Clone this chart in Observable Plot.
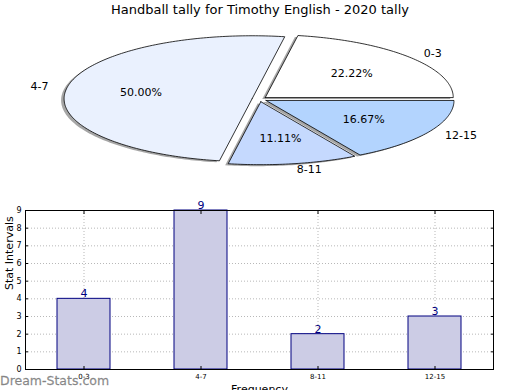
<!DOCTYPE html>
<html>
<head>
<meta charset="utf-8">
<script src="https://cdn.jsdelivr.net/npm/d3@7"></script>
<script src="https://cdn.jsdelivr.net/npm/@observablehq/plot@0.6"></script>
<style>
  body { margin: 0; background: #fff; font-family: "DejaVu Sans", sans-serif; }
  #wrap { position: relative; width: 520px; height: 390px; overflow: hidden; }
  #title { height: 20px; line-height: 20px; text-align: center; font-size: 13px; color: #000; }
  #wm { position: absolute; left: 0; top: 374px; line-height: 14px; font-size: 12.5px; font-weight: normal; color: rgba(110,110,110,0.75); -webkit-text-stroke: 0.3px rgba(110,110,110,0.75); pointer-events: none; }
  svg { display: block; }
</style>
</head>
<body>
<div id="wrap">
  <div id="title">Handball tally for Timothy English - 2020 tally</div>
  <div id="pie"></div>
  <div id="bar"></div>
  <div id="wm">Dream-Stats.com</div>
</div>
<script>
// ---- data ----
const categories = ["0-3", "4-7", "8-11", "12-15"];
const counts = [4, 9, 2, 3];
const sliceColors = ["#ffffff", "#eaf1fe", "#c5d9fe", "#b3d4fe"];
const yTicks = [0, 1, 2, 3, 4, 5, 6, 7, 8, 9];
const explode = 0.04;

// ---- pie geometry (unit circle, matplotlib-style start at 0°, counterclockwise) ----
const total = d3.sum(counts);
let acc = 0;
const slices = categories.map((c, i) => {
  const a0 = acc / total * 2 * Math.PI;
  acc += counts[i];
  const a1 = acc / total * 2 * Math.PI;
  const mid = (a0 + a1) / 2;
  const ox = explode * Math.cos(mid), oy = explode * Math.sin(mid);
  const pts = [{x: ox, y: oy}];
  const n = Math.max(2, Math.ceil((a1 - a0) / (Math.PI / 180)));
  for (let k = 0; k <= n; k++) {
    const a = a0 + (a1 - a0) * k / n;
    pts.push({x: ox + Math.cos(a), y: oy + Math.sin(a)});
  }
  pts.push({x: ox, y: oy});
  return {label: c, value: counts[i], color: sliceColors[i], mid, ox, oy, pts,
          pct: (100 * counts[i] / total).toFixed(2) + "%"};
});

const labelPts = slices.map(s => ({
  text: s.label,
  x: s.ox + 1.1 * Math.cos(s.mid),
  y: s.oy + 1.1 * Math.sin(s.mid)
}));
const pctPts = slices.map(s => ({
  text: s.pct,
  x: s.ox + 0.6 * Math.cos(s.mid),
  y: s.oy + 0.6 * Math.sin(s.mid)
}));

const pieMarks = [];
slices.forEach(s => pieMarks.push(Plot.line(s.pts, {x: "x", y: "y", fill: "#4d4d4d", fillOpacity: 0.5, stroke: "none", dx: -3, dy: 1.5})));
slices.forEach(s => pieMarks.push(Plot.line(s.pts, {x: "x", y: "y", fill: s.color, stroke: "#000", strokeWidth: 0.8})));
pieMarks.push(Plot.text(labelPts.filter(d => d.x > 0), {x: "x", y: "y", text: "text", textAnchor: "start", fontSize: 11, fill: "#000"}));
pieMarks.push(Plot.text(labelPts.filter(d => d.x <= 0), {x: "x", y: "y", text: "text", textAnchor: "end", fontSize: 11, fill: "#000"}));
pieMarks.push(Plot.text(pctPts, {x: "x", y: "y", text: "text", fontSize: 11, fill: "#000"}));

const pie = Plot.plot({
  width: 520, height: 170,
  margin: 0,
  style: {fontFamily: "DejaVu Sans", background: "transparent"},
  x: {domain: [-1, 1], range: [71, 447], axis: null},
  y: {domain: [-1, 1], range: [141.7, 15.7], axis: null},
  marks: pieMarks
});
document.getElementById("pie").append(pie);

// ---- bar chart ----
const barData = categories.map((c, i) => ({cat: c, n: counts[i]}));
const bar = Plot.plot({
  width: 520, height: 200,
  marginTop: 20, marginBottom: 21, marginLeft: 25, marginRight: 27,
  style: {fontFamily: "DejaVu Sans", background: "transparent", color: "#000"},
  x: {domain: categories, paddingInner: 0.547, paddingOuter: 0.2735, label: null},
  y: {domain: [0, 9], label: null},
  marks: [
    Plot.gridX({stroke: "#999", strokeOpacity: 1, strokeWidth: 0.7, strokeDasharray: "1,2"}),
    Plot.gridY(yTicks, {stroke: "#999", strokeOpacity: 1, strokeWidth: 0.7, strokeDasharray: "1,2"}),
    Plot.barY(barData, {x: "cat", y: "n", fill: "#ccccE5", stroke: "#000080", strokeWidth: 1}),
    Plot.axisY(yTicks, {anchor: "left", tickSize: -3, tickPadding: 7, fontSize: 8, label: null}),
    Plot.axisY(yTicks, {anchor: "right", tickSize: -3, tickFormat: () => "", label: null}),
    Plot.axisX({anchor: "bottom", tickSize: -3, tickPadding: 8, fontSize: 7, label: null}),
    Plot.axisX({anchor: "top", tickSize: -3, tickFormat: () => "", label: null}),
    Plot.frame({stroke: "#000", strokeWidth: 1}),
    Plot.text(barData, {x: "cat", y: "n", text: d => String(d.n), dy: -5, fontSize: 11, fill: "#000080"}),
    Plot.text(["Stat Intervals"], {frameAnchor: "left", rotate: -90, dx: -16, fontSize: 11, fill: "#000"}),
    Plot.text(["Frequency"], {frameAnchor: "bottom", dy: 23, fontSize: 11, fill: "#000"})
  ]
});
document.getElementById("bar").append(bar);
</script>
</body>
</html>
